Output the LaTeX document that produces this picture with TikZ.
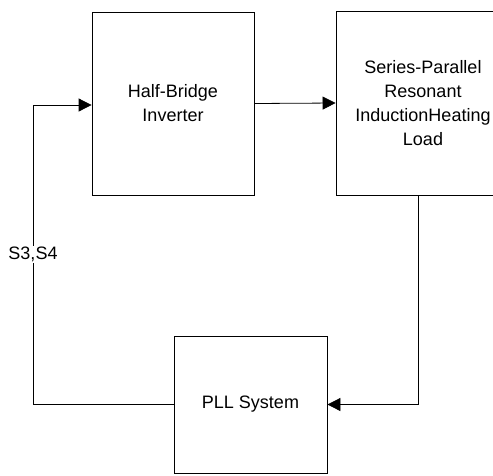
\documentclass[tikz,border=0pt]{standalone}
\usepackage{fontspec}
\setmainfont{Liberation Sans}
\usetikzlibrary{arrows.meta}

\begin{document}
\begin{tikzpicture}[>={Triangle[length=13pt,width=13pt]},x=1pt,y=-1pt,
    blockbox/.style={draw,line width=0.8pt,align=center,inner sep=0pt,
      font=\fontsize{18}{24}\selectfont},
    link/.style={line width=0.8pt}]
  \useasboundingbox (0,0) rectangle (493,475);
  % blocks
  \node[blockbox,minimum width=162pt,minimum height=183pt] (inverter) at (173,103.5)
    {Half-Bridge\\Inverter};
  \node[blockbox,minimum width=174pt,minimum height=184pt] (load) at (423,103)
    {Series-Parallel\\Resonant\\InductionHeating\\Load};
  \node[blockbox,minimum width=153pt,minimum height=137pt] (pll) at (250.5,404.5)
    {PLL System};
  % corners of the feedback paths
  \coordinate (loadtap) at (418,404.5);
  \coordinate (loopbot) at (33,404.5);
  \coordinate (looptop) at (33,105);
  % inverter output into the load
  \draw[link,->] (inverter.east) -- (load.west);
  % load signal back to the PLL
  \draw[link,->] (load.south -| loadtap) -- (loadtap) -- (loadtap -| pll.east);
  % gate signals to the inverter
  \draw[link,->] (pll.west) -- (loopbot) -- (looptop)
    node[pos=0.5,fill=white,inner sep=1pt,font=\fontsize{18}{24}\selectfont] (gates) {S3,S4}
    -- (looptop -| inverter.west);
\end{tikzpicture}
\end{document}
